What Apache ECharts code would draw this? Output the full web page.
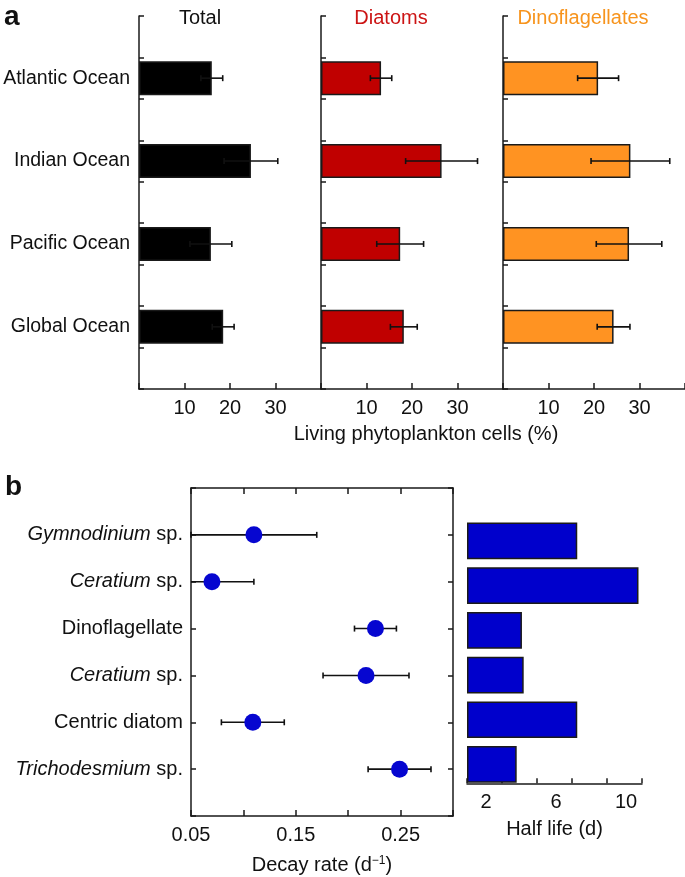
<!DOCTYPE html>
<html>
<head>
<meta charset="utf-8">
<script src="https://cdn.jsdelivr.net/npm/echarts@6/dist/echarts.min.js"></script>
<style>
html,body{margin:0;padding:0;background:#fff;}
#c{width:685px;height:877px;}
</style>
</head>
<body>
<div id="c"></div>
<script>
// ---- Panel a data ----
const oceans = ['Atlantic Ocean', 'Indian Ocean', 'Pacific Ocean', 'Global Ocean'];
const totalVals = [16.0, 24.6, 15.8, 18.5];
const totalErr = [2.4, 5.9, 4.6, 2.4];
const diatomVals = [13.2, 26.5, 17.4, 18.2];
const diatomErr = [2.35, 7.9, 5.15, 2.95];
const dinoVals = [20.9, 28.0, 27.7, 24.3];
const dinoErr = [4.5, 8.65, 7.2, 3.6];
const pctTickLabels = [10, 20, 30];
const groupTitles = ['Total', 'Diatoms', 'Dinoflagellates'];

// ---- Panel b data ----
const species = ['Gymnodinium sp.', 'Ceratium sp.', 'Dinoflagellate', 'Ceratium sp.', 'Centric diatom', 'Trichodesmium sp.'];
const speciesItalic = [true, true, false, true, false, true];
const decayRate = [0.11, 0.07, 0.226, 0.217, 0.109, 0.249];
const decayErr = [0.06, 0.04, 0.02, 0.041, 0.03, 0.03];
const halfLife = [6.3, 9.8, 3.14, 3.24, 6.3, 2.84];
const decayTickLabels = [0.05, 0.15, 0.25];
const halfTickLabels = [2, 6, 10];

const FONT = 'Liberation Sans, Arial, Helvetica, sans-serif';
const AX = '#1a1a1a';
const FS = 20;

const chart = echarts.init(document.getElementById('c'), null, {renderer: 'canvas'});

// Category axis for panel a: blank bands between oceans
const oceanAxis = [''];
oceans.forEach(o => { oceanAxis.push(o, ''); });

function errRender(params, api) {
  const y = api.value(1);
  const lo = api.value(2), hi = api.value(3);
  const p1 = api.coord([lo, y]);
  const p2 = api.coord([hi, y]);
  const h = 3;
  const st = {stroke: '#111', lineWidth: 1.6};
  return {type: 'group', children: [
    {type: 'line', shape: {x1: p1[0], y1: p1[1], x2: p2[0], y2: p2[1]}, style: st},
    {type: 'line', shape: {x1: p1[0], y1: p1[1] - h, x2: p1[0], y2: p1[1] + h}, style: st},
    {type: 'line', shape: {x1: p2[0], y1: p2[1] - h, x2: p2[0], y2: p2[1] + h}, style: st}
  ]};
}

const decayMin = 0.05, decayMax = 0.30;
function errRenderClip(params, api) {
  const y = api.value(1);
  const lo = Math.max(api.value(2), decayMin), hi = Math.min(api.value(3), decayMax);
  const p1 = api.coord([lo, y]);
  const p2 = api.coord([hi, y]);
  const h = 3;
  const st = {stroke: '#111', lineWidth: 1.6};
  const ch = [{type: 'line', shape: {x1: p1[0], y1: p1[1], x2: p2[0], y2: p2[1]}, style: st}];
  if (api.value(2) >= decayMin) ch.push({type: 'line', shape: {x1: p1[0], y1: p1[1] - h, x2: p1[0], y2: p1[1] + h}, style: st});
  ch.push({type: 'line', shape: {x1: p2[0], y1: p2[1] - h, x2: p2[0], y2: p2[1] + h}, style: st});
  return {type: 'group', children: ch};
}

const gridsA = [
  {left: 139, top: 16, width: 182, height: 373, outerBoundsMode: 'none', containLabel: false},
  {left: 321, top: 16, width: 182, height: 373, outerBoundsMode: 'none', containLabel: false},
  {left: 503, top: 16, width: 182, height: 373, outerBoundsMode: 'none', containLabel: false}
];

const xAxesA = gridsA.map((g, i) => ({
  type: 'value', gridIndex: i, min: 0, max: 40, interval: 10,
  axisLine: {show: true, onZero: false, lineStyle: {color: AX, width: 1.5}},
  axisTick: {show: true, inside: true, length: 6, lineStyle: {color: AX, width: 1.5}},
  splitLine: {show: false},
  axisLabel: {
    margin: 9, fontSize: FS, fontFamily: FONT, color: '#111',
    formatter: v => pctTickLabels.indexOf(v) >= 0 ? String(v) : ''
  }
}));

const yAxesA = gridsA.map((g, i) => ({
  type: 'category', gridIndex: i, data: oceanAxis, inverse: true, boundaryGap: true,
  axisLine: {show: true, lineStyle: {color: AX, width: 1.5}},
  axisTick: {show: true, inside: true, length: 5, alignWithLabel: false, interval: 0, lineStyle: {color: AX, width: 1.5}},
  axisLabel: {show: i === 0, interval: 0, margin: 9, fontSize: 19.5, fontFamily: FONT, color: '#111'},
  splitLine: {show: false}
}));

const barColors = ['#000000', '#c00000', '#ff9322'];
const valsA = [totalVals, diatomVals, dinoVals];
const errsA = [totalErr, diatomErr, dinoErr];

const seriesA = [];
valsA.forEach((vals, gi) => {
  seriesA.push({
    type: 'bar', xAxisIndex: gi, yAxisIndex: gi, barWidth: 34, z: 2,
    data: vals.map((v, i) => [v, 2 * i + 1]),
    itemStyle: {color: barColors[gi], borderColor: '#1a1a1a', borderWidth: 1.5}
  });
  seriesA.push({
    type: 'custom', xAxisIndex: gi, yAxisIndex: gi, z: 3,
    renderItem: errRender,
    encode: {x: [0, 2, 3], y: 1},
    data: vals.map((v, i) => [v, 2 * i + 1, v - errsA[gi][i], v + errsA[gi][i]])
  });
});

// Panel b
const speciesAxis = [''].concat(species, ['']);
function speciesFormatter(value, idx) {
  if (!value) return '';
  const k = idx - 1;
  if (speciesItalic[k]) {
    const parts = value.split(' sp.');
    return '{i|' + parts[0] + '} sp.';
  }
  return value;
}

const option = {
  animation: false,
  backgroundColor: '#ffffff',
  grid: gridsA.concat([
    {left: 191, top: 488, width: 262, height: 328, outerBoundsMode: 'none', containLabel: false},
    {left: 467, top: 518.6, width: 175, height: 268.2, outerBoundsMode: 'none', containLabel: false}
  ]),
  xAxis: xAxesA.concat([
    {
      type: 'value', gridIndex: 3, min: decayMin, max: decayMax, interval: 0.05, position: 'bottom',
      axisLine: {show: true, onZero: false, lineStyle: {color: AX, width: 1.5}},
      axisTick: {show: true, inside: true, length: 6, lineStyle: {color: AX, width: 1.5}},
      splitLine: {show: false},
      axisLabel: {
        margin: 9, fontSize: FS, fontFamily: FONT, color: '#111',
        formatter: v => {
          const r = Math.round(v * 100);
          return decayTickLabels.some(t => Math.round(t * 100) === r) ? v.toFixed(2) : '';
        }
      },
      name: 'Decay rate (d{sup|\u22121})', nameLocation: 'middle', nameGap: 39,
      nameTextStyle: {fontSize: FS, fontFamily: FONT, color: '#111',
        rich: {sup: {fontSize: 12, fontFamily: FONT, color: '#111', verticalAlign: 'top', padding: [0, 0, 9, 0]}}}
    },
    {
      type: 'value', gridIndex: 3, min: decayMin, max: decayMax, interval: 0.05, position: 'top',
      axisLine: {show: true, onZero: false, lineStyle: {color: AX, width: 1.5}},
      axisTick: {show: true, inside: true, length: 6, lineStyle: {color: AX, width: 1.5}},
      splitLine: {show: false}, axisLabel: {show: false}
    },
    {
      type: 'value', gridIndex: 4, min: 0, max: 10, interval: 2, position: 'bottom', offset: -3.5,
      axisLine: {show: true, onZero: false, lineStyle: {color: AX, width: 1.5}},
      axisTick: {show: true, inside: true, length: 5, lineStyle: {color: AX, width: 1.5}},
      splitLine: {show: false},
      axisLabel: {
        margin: 9, fontSize: FS, fontFamily: FONT, color: '#111', padding: [0, 32, 0, 0],
        formatter: v => halfTickLabels.indexOf(v) >= 0 ? String(v) : ''
      },
      name: 'Half life (d)', nameLocation: 'middle', nameGap: 36,
      nameTextStyle: {fontSize: FS, fontFamily: FONT, color: '#111'}
    }
  ]),
  yAxis: yAxesA.concat([
    {
      type: 'category', gridIndex: 3, data: speciesAxis, inverse: true, boundaryGap: false, position: 'left',
      axisLine: {show: true, lineStyle: {color: AX, width: 1.5}},
      axisTick: {show: true, inside: true, length: 5, interval: 0, lineStyle: {color: AX, width: 1.5}},
      axisLabel: {interval: 0, margin: 8, fontSize: FS, fontFamily: FONT, color: '#111', formatter: speciesFormatter,
        rich: {i: {fontStyle: 'italic', fontSize: FS, fontFamily: FONT, color: '#111'}}},
      splitLine: {show: false}
    },
    {
      type: 'category', gridIndex: 3, data: speciesAxis, inverse: true, boundaryGap: false, position: 'right',
      axisLine: {show: true, lineStyle: {color: AX, width: 1.5}},
      axisTick: {show: true, inside: true, length: 5, interval: 0, lineStyle: {color: AX, width: 1.5}},
      axisLabel: {show: false}, splitLine: {show: false}
    },
    {
      type: 'category', gridIndex: 4, data: species, inverse: true, show: false
    }
  ]),
  series: seriesA.concat([
    {
      type: 'custom', xAxisIndex: 3, yAxisIndex: 3, z: 2,
      renderItem: errRenderClip,
      encode: {x: [0, 2, 3], y: 1},
      data: decayRate.map((v, i) => [v, i + 1, v - decayErr[i], v + decayErr[i]])
    },
    {
      type: 'scatter', xAxisIndex: 3, yAxisIndex: 3, z: 4, symbol: 'circle', symbolSize: 17,
      itemStyle: {color: '#0606d0', opacity: 1},
      data: decayRate.map((v, i) => [v, i + 1])
    },
    {
      type: 'bar', xAxisIndex: 5, yAxisIndex: 5, barCategoryGap: '18%',
      itemStyle: {color: '#0000cc', borderColor: '#1a1a1a', borderWidth: 1.5},
      data: halfLife
    }
  ]),
  graphic: [
    {type: 'text', x: 4, y: 3, style: {text: 'a', fontSize: 28, fontWeight: 'bold', fontFamily: FONT, fill: '#111'}},
    {type: 'text', x: 5, y: 473, style: {text: 'b', fontSize: 28, fontWeight: 'bold', fontFamily: FONT, fill: '#111'}},
    {type: 'text', x: 200, y: 18, style: {text: groupTitles[0], fontSize: FS, fontFamily: FONT, fill: '#111', align: 'center', verticalAlign: 'middle', textAlign: 'center', textVerticalAlign: 'middle'}},
    {type: 'text', x: 391, y: 18, style: {text: groupTitles[1], fontSize: FS, fontFamily: FONT, fill: '#cc1414', align: 'center', verticalAlign: 'middle', textAlign: 'center', textVerticalAlign: 'middle'}},
    {type: 'text', x: 583, y: 18, style: {text: groupTitles[2], fontSize: FS, fontFamily: FONT, fill: '#f7941d', align: 'center', verticalAlign: 'middle', textAlign: 'center', textVerticalAlign: 'middle'}},
    {type: 'text', x: 426, y: 434, style: {text: 'Living phytoplankton cells (%)', fontSize: FS, fontFamily: FONT, fill: '#111', align: 'center', verticalAlign: 'middle', textAlign: 'center', textVerticalAlign: 'middle'}}
  ]
};

chart.setOption(option);
</script>
</body>
</html>
